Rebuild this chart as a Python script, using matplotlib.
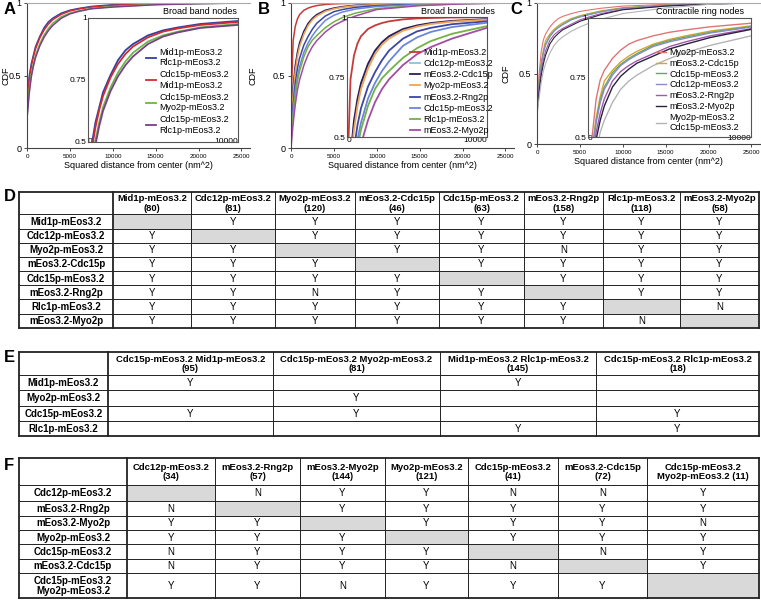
import numpy as np
import matplotlib
matplotlib.use('Agg')
import matplotlib.pyplot as plt
from matplotlib.patches import Rectangle

plt.rcParams['font.family'] = ['Liberation Sans', 'DejaVu Sans']

W, H = 761, 601

xs = [0, 250, 500, 750, 1000, 1500, 2000, 2500, 3000, 4000, 5000, 6000, 7500, 10000, 15000, 20000, 25000]

# panel A: broad band nodes, two-colour strains
a_labels = ['Mid1p-mEos3.2\nRlc1p-mEos3.2', 'Cdc15p-mEos3.2\nMid1p-mEos3.2',
            'Cdc15p-mEos3.2\nMyo2p-mEos3.2', 'Cdc15p-mEos3.2\nRlc1p-mEos3.2']
a_colors = ['#3340a0', '#d42a35', '#6ab845', '#7a3f86']
a_mid1_rlc1 = [0.25, 0.49, 0.58, 0.64, 0.70, 0.77, 0.83, 0.87, 0.895, 0.93, 0.95, 0.962, 0.976, 0.988, 0.996, 0.999, 1.0]
a_cdc15_mid1 = [0.25, 0.47, 0.56, 0.63, 0.685, 0.76, 0.815, 0.855, 0.885, 0.922, 0.945, 0.958, 0.972, 0.984, 0.994, 0.998, 1.0]
a_cdc15_myo2 = [0.22, 0.40, 0.51, 0.58, 0.64, 0.72, 0.78, 0.825, 0.86, 0.905, 0.93, 0.945, 0.962, 0.976, 0.99, 0.996, 1.0]
a_cdc15_rlc1 = [0.20, 0.37, 0.49, 0.565, 0.625, 0.705, 0.765, 0.81, 0.845, 0.895, 0.925, 0.942, 0.96, 0.972, 0.988, 0.995, 1.0]
a_series = [a_mid1_rlc1, a_cdc15_mid1, a_cdc15_myo2, a_cdc15_rlc1]

# panel B: broad band nodes
b_labels = ['Mid1p-mEos3.2', 'Cdc12p-mEos3.2', 'mEos3.2-Cdc15p', 'Myo2p-mEos3.2',
            'mEos3.2-Rng2p', 'Cdc15p-mEos3.2', 'Rlc1p-mEos3.2', 'mEos3.2-Myo2p']
b_colors = ['#c83a3a', '#7cc8e2', '#2c1c5e', '#f0a552', '#3d46a2', '#6a86dc', '#72b244', '#a24ca4']
b_mid1 = [0.30, 0.74, 0.84, 0.89, 0.92, 0.95, 0.965, 0.975, 0.982, 0.99, 0.994, 0.996, 0.998, 0.999, 1.0, 1.0, 1.0]
b_cdc12 = [0.15, 0.40, 0.55, 0.64, 0.71, 0.79, 0.855, 0.89, 0.915, 0.945, 0.962, 0.972, 0.982, 0.99, 0.997, 0.999, 1.0]
b_cdc15n = [0.15, 0.42, 0.57, 0.66, 0.725, 0.805, 0.86, 0.895, 0.92, 0.95, 0.965, 0.975, 0.984, 0.991, 0.997, 0.999, 1.0]
b_myo2 = [0.12, 0.38, 0.53, 0.63, 0.70, 0.785, 0.845, 0.885, 0.91, 0.943, 0.96, 0.971, 0.981, 0.989, 0.996, 0.999, 1.0]
b_rng2 = [0.10, 0.30, 0.45, 0.55, 0.62, 0.71, 0.77, 0.82, 0.86, 0.91, 0.94, 0.955, 0.97, 0.982, 0.993, 0.998, 1.0]
b_cdc15c = [0.08, 0.26, 0.40, 0.49, 0.56, 0.66, 0.725, 0.775, 0.815, 0.88, 0.915, 0.938, 0.958, 0.976, 0.99, 0.997, 1.0]
b_rlc1 = [0.05, 0.22, 0.36, 0.46, 0.53, 0.63, 0.70, 0.745, 0.775, 0.83, 0.87, 0.90, 0.93, 0.962, 0.985, 0.995, 1.0]
b_myo2n = [0.0, 0.17, 0.30, 0.40, 0.47, 0.57, 0.645, 0.70, 0.74, 0.80, 0.845, 0.875, 0.91, 0.955, 0.982, 0.994, 1.0]
b_series = [b_mid1, b_cdc12, b_cdc15n, b_myo2, b_rng2, b_cdc15c, b_rlc1, b_myo2n]

# panel C: contractile ring nodes
c_labels = ['Myo2p-mEos3.2', 'mEos3.2-Cdc15p', 'Cdc15p-mEos3.2', 'Cdc12p-mEos3.2',
            'mEos3.2-Rng2p', 'mEos3.2-Myo2p', 'Myo2p-mEos3.2\nCdc15p-mEos3.2']
c_colors = ['#e07474', '#d6a62a', '#62a862', '#8a8cc8', '#a457a8', '#24243e', '#b4b4b4']
c_myo2 = [0.30, 0.50, 0.66, 0.74, 0.78, 0.83, 0.865, 0.89, 0.905, 0.925, 0.94, 0.95, 0.963, 0.978, 0.99, 0.996, 1.0]
c_cdc15n = [0.28, 0.45, 0.58, 0.67, 0.735, 0.78, 0.815, 0.84, 0.86, 0.89, 0.91, 0.925, 0.945, 0.967, 0.985, 0.995, 1.0]
c_cdc15c = [0.27, 0.44, 0.57, 0.655, 0.71, 0.77, 0.805, 0.83, 0.85, 0.885, 0.905, 0.92, 0.94, 0.964, 0.984, 0.995, 1.0]
c_cdc12 = [0.26, 0.43, 0.56, 0.645, 0.70, 0.76, 0.80, 0.825, 0.845, 0.88, 0.90, 0.915, 0.937, 0.962, 0.983, 0.994, 1.0]
c_rng2 = [0.24, 0.40, 0.52, 0.60, 0.66, 0.735, 0.775, 0.80, 0.82, 0.85, 0.88, 0.90, 0.925, 0.955, 0.98, 0.993, 1.0]
c_myo2n = [0.22, 0.37, 0.49, 0.57, 0.63, 0.71, 0.755, 0.785, 0.81, 0.84, 0.87, 0.89, 0.918, 0.952, 0.978, 0.992, 1.0]
c_myo2_cdc15 = [0.20, 0.33, 0.44, 0.52, 0.57, 0.645, 0.70, 0.735, 0.76, 0.80, 0.83, 0.855, 0.885, 0.925, 0.965, 0.99, 1.0]
c_series = [c_myo2, c_cdc15n, c_cdc15c, c_cdc12, c_rng2, c_myo2n, c_myo2_cdc15]

# ---- tables
d_cols = ['Mid1p-mEos3.2\n(80)', 'Cdc12p-mEos3.2\n(81)', 'Myo2p-mEos3.2\n(120)', 'mEos3.2-Cdc15p\n(46)',
          'Cdc15p-mEos3.2\n(63)', 'mEos3.2-Rng2p\n(158)', 'Rlc1p-mEos3.2\n(118)', 'mEos3.2-Myo2p\n(58)']
d_rows = ['Mid1p-mEos3.2', 'Cdc12p-mEos3.2', 'Myo2p-mEos3.2', 'mEos3.2-Cdc15p',
          'Cdc15p-mEos3.2', 'mEos3.2-Rng2p', 'Rlc1p-mEos3.2', 'mEos3.2-Myo2p']
d_cells = ['-YYYYYYY', 'Y-YYYYYY', 'YY-YYNYY', 'YYY-YYYY',
           'YYYY-YYY', 'YYNYY-YY', 'YYYYYY-N', 'YYYYYYN-']

e_cols = ['Cdc15p-mEos3.2 Mid1p-mEos3.2\n(95)', 'Cdc15p-mEos3.2 Myo2p-mEos3.2\n(81)',
          'Mid1p-mEos3.2 Rlc1p-mEos3.2\n(145)', 'Cdc15p-mEos3.2 Rlc1p-mEos3.2\n(18)']
e_rows = ['Mid1p-mEos3.2', 'Myo2p-mEos3.2', 'Cdc15p-mEos3.2', 'Rlc1p-mEos3.2']
e_cells = ['Y.Y.', '.Y..', 'YY.Y', '..YY']

f_cols = ['Cdc12p-mEos3.2\n(34)', 'mEos3.2-Rng2p\n(57)', 'mEos3.2-Myo2p\n(144)', 'Myo2p-mEos3.2\n(121)',
          'Cdc15p-mEos3.2\n(41)', 'mEos3.2-Cdc15p\n(72)', 'Cdc15p-mEos3.2\nMyo2p-mEos3.2 (11)']
f_rows = ['Cdc12p-mEos3.2', 'mEos3.2-Rng2p', 'mEos3.2-Myo2p', 'Myo2p-mEos3.2',
          'Cdc15p-mEos3.2', 'mEos3.2-Cdc15p', 'Cdc15p-mEos3.2\nMyo2p-mEos3.2']
f_cells = ['-NYYNNY', 'N-YYYYY', 'YY-YYYN', 'YYY-YYY', 'NYYY-NY', 'NYYYN-Y', 'YYNYYY-']

fig = plt.figure(figsize=(W / 100, H / 100), dpi=100)


def px_axes(x0, y0, x1, y1):
    # pixel box (top-left origin) -> axes
    return fig.add_axes([x0 / W, 1 - y1 / H, (x1 - x0) / W, (y1 - y0) / H])


def cdf_panel(box, inbox, series, colors, labels, title, title_xy, leg_xy, lw, labspace, ylab_x, inpad):
    ax = px_axes(*box)
    for ys, c in zip(series, colors):
        ax.plot(xs, ys, color=c, lw=lw)
    ax.set_xlim(0, 26000)
    ax.set_ylim(0, 1)
    ax.set_xticks([0, 5000, 10000, 15000, 20000, 25000])
    ax.set_yticks([0, 0.5, 1])
    ax.set_yticklabels(['0', '0.5', '1'], fontsize=6.5)
    ax.tick_params(axis='x', labelsize=4.5, length=2, width=0.5, pad=2)
    ax.tick_params(axis='y', length=2, width=0.5, pad=2)
    for s in ['left', 'bottom']:
        ax.spines[s].set_color('#444444')
        ax.spines[s].set_linewidth(0.8)
    ax.spines['top'].set_color('#aaaaaa')
    ax.spines['top'].set_linewidth(0.8)
    ax.spines['right'].set_visible(False)
    ax.set_xlabel('Squared distance from center (nm^2)', fontsize=6.5, labelpad=2)
    ax.set_ylabel('CDF', fontsize=6.5)
    ax.yaxis.set_label_coords(ylab_x, 0.5)
    fig.text(title_xy[0] / W, 1 - title_xy[1] / H, title, fontsize=6.5, ha='right', va='center')

    ai = px_axes(*inbox)
    ai.set_facecolor('white')
    lines = []
    for ys, c in zip(series, colors):
        ln, = ai.plot(xs, ys, color=c, lw=lw + 0.2)
        lines.append(ln)
    ai.set_xlim(0, 10000)
    ai.set_ylim(0.5, 1)
    ai.set_yticks([0.5, 0.75, 1])
    ai.set_yticklabels(['0.5', '0.75', '1'], fontsize=6)
    ai.set_xticks([0, 10000])
    ai.set_xticklabels(['0', '10000'], fontsize=6)
    ai.tick_params(axis='y', length=0, pad=1)
    ai.tick_params(axis='x', length=0, pad=inpad)
    tl = ai.get_xticklabels()
    tl[0].set_ha('left')
    tl[1].set_ha('right')
    for s in ai.spines.values():
        s.set_color('#555555')
        s.set_linewidth(0.8)
    ai.legend(lines, labels, loc='upper left', bbox_to_anchor=(leg_xy[0] / W, 1 - leg_xy[1] / H),
              bbox_transform=fig.transFigure, frameon=False, fontsize=6.5, handlelength=1.1,
              handletextpad=0.4, labelspacing=labspace, borderaxespad=0, borderpad=0)
    return ax


cdf_panel((27, 3, 250, 148), (88, 18, 238, 142), a_series, a_colors, a_labels,
          'Broad band nodes', (237, 11), (146, 48), 1.1, 0.33, -0.075, -3)
cdf_panel((291, 3, 514, 148), (347, 17, 487, 137), b_series, b_colors, b_labels,
          'Broad band nodes', (495, 11), (410, 48), 1.1, 0.24, -0.15, 0)
cdf_panel((537, 3, 760, 144), (588, 18, 751, 137), c_series, c_colors, c_labels,
          'Contractile ring nodes', (744, 12), (656, 48), 0.8, 0.2, -0.12, -1.5)

# panel letters
for lab, (x, y) in zip('ABCDEF', [(4, 10), (258, 10), (510, 10), (4, 197), (4, 357), (4, 466)]):
    fig.text(x / W, 1 - y / H, lab, fontsize=12, fontweight='bold', va='center', ha='left')

# ---- tables drawn in pixel coordinates
tab = fig.add_axes([0, 0, 1, 1], zorder=-1)
tab.set_xlim(0, W)
tab.set_ylim(H, 0)
tab.axis('off')


def draw_table(col_edges, row_edges, cols, rows, cells):
    for i, row in enumerate(cells):
        for j, v in enumerate(row):
            x0, x1 = col_edges[j + 1], col_edges[j + 2]
            y0, y1 = row_edges[i + 1], row_edges[i + 2]
            if v == '-':
                tab.add_patch(Rectangle((x0, y0), x1 - x0, y1 - y0, facecolor='#d9d9d9', edgecolor='none'))
            elif v in 'YN':
                tab.text((x0 + x1) / 2, (y0 + y1) / 2 + 0.5, v, ha='center', va='center', fontsize=7)
    for j, c in enumerate(cols):
        x0, x1 = col_edges[j + 1], col_edges[j + 2]
        tab.text((x0 + x1) / 2, (row_edges[0] + row_edges[1]) / 2 + 0.5, c, ha='center', va='center',
                 fontsize=6.8, fontweight='bold', linespacing=1.05)
    for i, r in enumerate(rows):
        tab.text((col_edges[0] + col_edges[1]) / 2, (row_edges[i + 1] + row_edges[i + 2]) / 2 + 0.5, r,
                 ha='center', va='center', fontsize=7, fontweight='bold', linespacing=1.05)
    for k, x in enumerate(col_edges):
        outer = k in (0, len(col_edges) - 1)
        tab.plot([x, x], [row_edges[0], row_edges[-1]], color='#222222', lw=1.3 if outer or k == 1 else 0.7)
    for k, y in enumerate(row_edges):
        outer = k in (0, len(row_edges) - 1)
        tab.plot([col_edges[0], col_edges[-1]], [y, y], color='#222222', lw=1.3 if outer else 0.7)


draw_table([19, 113, 191, 275, 355, 439, 524, 603, 680, 759],
           [192, 214, 228.5, 242.7, 256.8, 271, 285.2, 299.4, 313.6, 328],
           d_cols, d_rows, d_cells)
draw_table([19, 108, 273, 440, 596, 759],
           [352, 375, 390.3, 405.5, 420.8, 436],
           e_cols, e_rows, e_cells)
draw_table([19, 127, 215, 300, 385, 468, 558, 647, 759],
           [458, 485, 501, 515.5, 530, 544.3, 558.6, 573, 598],
           f_cols, f_rows, f_cells)

fig.savefig('out.png', dpi=100)
